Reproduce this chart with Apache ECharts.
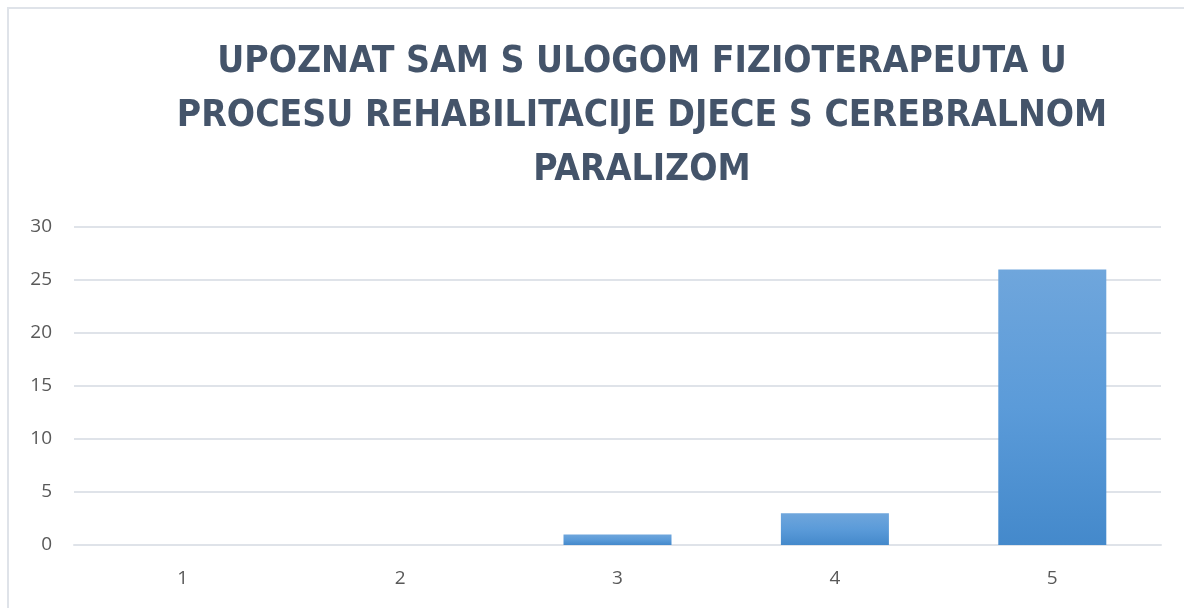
<!DOCTYPE html>
<html lang="hr">
<head>
    <meta charset="UTF-8">
    <title>Uloga fizioterapeuta</title>
    <style>
        body { margin: 0; background: #fff; }
        #frame { position: absolute; left: 7px; top: 7px; width: 1200px; height: 700px; border: 2px solid #dfe3e9; }
        #main { position: absolute; left: 0; top: 0; width: 1184px; height: 608px; }
    </style>
</head>
<body>
    <div id="frame"></div>
    <div id="main"></div>
    <script src="https://cdn.jsdelivr.net/npm/echarts@6/dist/echarts.min.js"></script>
    <script>
        var categories = ['1', '2', '3', '4', '5'];
        var values = [0, 0, 1, 3, 26];
        var titleLines = [
            'UPOZNAT SAM S ULOGOM FIZIOTERAPEUTA U',
            'PROCESU REHABILITACIJE DJECE S CEREBRALNOM',
            'PARALIZOM'
        ];

        var myChart = echarts.init(document.getElementById('main'));

        var option = {
            title: {
                text: titleLines.join('\n'),
                left: 637,
                textAlign: 'center',
                top: 30,
                textStyle: {
                    fontFamily: 'DejaVu Sans Condensed',
                    fontWeight: 'bold',
                    fontSize: 37,
                    lineHeight: 54,
                    color: '#44546a'
                }
            },
            grid: {
                left: 74,
                right: 23,
                top: 227,
                bottom: 63
            },
            xAxis: {
                type: 'category',
                data: categories,
                axisLine: { lineStyle: { color: '#dfe3e9', width: 2 } },
                axisTick: { show: false },
                axisLabel: {
                    margin: 24,
                    fontFamily: 'Open Sans',
                    fontSize: 19,
                    color: '#595959'
                }
            },
            yAxis: {
                type: 'value',
                min: 0,
                max: 30,
                interval: 5,
                axisLine: { show: false },
                axisTick: { show: false },
                splitLine: { lineStyle: { color: '#dfe3e9', width: 2 } },
                axisLabel: {
                    margin: 22,
                    fontFamily: 'Open Sans',
                    fontSize: 19,
                    color: '#595959'
                }
            },
            series: [{
                type: 'bar',
                data: values,
                barWidth: 108,
                itemStyle: {
                    color: new echarts.graphic.LinearGradient(0, 0, 0, 1, [
                        { offset: 0, color: '#6fa6dc' },
                        { offset: 0.5, color: '#5b9bd9' },
                        { offset: 1, color: '#4489cb' }
                    ])
                }
            }]
        };
        myChart.setOption(option);
    </script>
</body>
</html>
